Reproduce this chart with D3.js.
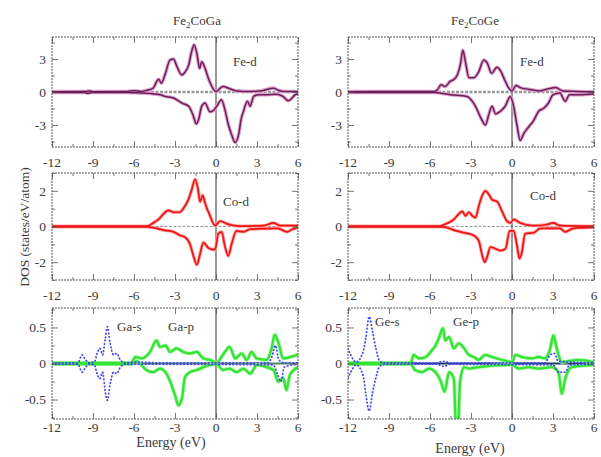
<!DOCTYPE html>
<html>
<head>
<meta charset="utf-8">
<script src="https://d3js.org/d3.v7.min.js"></script>
<style>
  body { margin: 0; background: #fff; }
  text { font-family: "Liberation Serif", "DejaVu Serif", serif; fill: #3a3a3a; }
  .axis path { display: none; }
  .axis line { stroke: #555; stroke-width: 0.8; }
</style>
</head>
<body>
<svg width="601" height="457"></svg>
<script>
// energy axis (eV)
var energyTicks = [-12, -9, -6, -3, 0, 3, 6];
var energyMinor = [-10.5, -7.5, -4.5, -1.5, 1.5, 4.5];

// Fe-d, Fe2CoGa  [energy, DOS]
var feGaUp = [[-12,0.03],[-9.5,0.05],[-9.3,0.1],[-9,0.03],[-6.5,0.05],[-6,0.12],[-5.5,0.05],[-5.3,0.08],[-4.9,0.2],[-4.6,0.35],[-4.2,1.15],[-4.0,0.8],[-3.7,1.7],[-3.37,2.9],[-3.1,3.0],[-2.9,2.45],[-2.5,1.55],[-2.27,1.8],[-2.0,2.45],[-1.78,3.7],[-1.6,4.3],[-1.4,3.5],[-1.2,2.15],[-1.05,2.75],[-0.8,2.15],[-0.56,1.25],[-0.3,0.5],[0,0.05],[0.5,0.5],[1.0,0.3],[1.5,0.1],[2.5,0.05],[3.3,0.1],[4.2,0.35],[4.7,0.1],[5.2,0.05],[6,0.05]];
var feGaDown = [[-12,-0.05],[-9.6,-0.05],[-9.4,-0.12],[-9.1,-0.05],[-6.5,-0.05],[-5.3,-0.1],[-4.1,-0.25],[-3.7,-0.4],[-3.1,-0.55],[-2.5,-1.0],[-2.0,-1.3],[-1.65,-2.2],[-1.45,-2.9],[-1.27,-2.5],[-1.05,-1.3],[-0.8,-1.0],[-0.44,-1.8],[-0.2,-1.7],[0.05,-1.3],[0.4,-0.7],[0.65,-1.6],[0.9,-2.95],[1.15,-3.9],[1.4,-4.6],[1.65,-3.9],[1.85,-2.4],[2.0,-1.8],[2.3,-0.85],[2.5,-1.3],[2.75,-0.4],[3.1,-0.25],[3.7,-0.25],[4.4,-0.2],[4.9,-0.4],[5.3,-0.8],[5.8,-0.25],[6,-0.15]];

// Fe-d, Fe2CoGe
var feGeUp = [[-12,0.03],[-9,0.05],[-5.7,0.05],[-5.45,0.2],[-5.2,0.65],[-4.9,0.5],[-4.5,1.0],[-4.3,1.1],[-4.0,1.55],[-3.76,2.6],[-3.6,3.8],[-3.4,2.7],[-3.15,1.3],[-2.8,1.3],[-2.43,1.85],[-2.07,2.9],[-1.8,2.6],[-1.5,1.7],[-1.1,2.25],[-0.85,1.95],[-0.5,1.0],[-0.26,0.4],[0,0.1],[0.3,0.6],[0.6,0.4],[1.2,0.25],[1.95,0.1],[2.7,0.3],[3.2,0.4],[3.7,0.1],[4.7,0.05],[6,0.02]];
var feGeDown = [[-12,-0.05],[-9,-0.05],[-5.7,-0.05],[-4.5,-0.25],[-3.28,-0.4],[-2.9,-0.85],[-2.67,-1.3],[-2.3,-2.3],[-1.94,-3.0],[-1.7,-2.05],[-1.46,-1.3],[-1.2,-2.0],[-0.85,-1.75],[-0.5,-1.3],[-0.12,-0.4],[0.12,-1.3],[0.36,-3.0],[0.6,-4.4],[0.85,-3.8],[1.2,-3.2],[1.58,-2.6],[1.95,-1.75],[2.3,-1.5],[2.67,-1.0],[3.0,-0.25],[3.5,-0.1],[3.9,-0.85],[4.2,-0.25],[4.9,-0.25],[6,-0.15]];

// Co-d
var coGaUp = [[-12,0.02],[-5,0.02],[-4.6,0.2],[-4.2,0.4],[-3.85,0.7],[-3.5,0.9],[-3.1,0.8],[-2.63,0.8],[-2.4,1.0],[-2.0,1.55],[-1.78,2.05],[-1.53,2.65],[-1.33,2.15],[-1.17,1.4],[-0.97,1.75],[-0.8,1.3],[-0.44,0.6],[-0.07,0.05],[0.3,0.3],[0.8,0.15],[1.75,0.02],[3.5,0.05],[4.2,0.2],[4.7,0.05],[6,0.05]];
var coGaDown = [[-12,-0.02],[-5,-0.02],[-3.85,-0.2],[-3.1,-0.3],[-2.63,-0.5],[-2.26,-0.6],[-1.9,-1.0],[-1.65,-1.65],[-1.4,-2.15],[-1.17,-1.55],[-0.92,-0.9],[-0.56,-1.2],[-0.07,-1.3],[0.17,-0.4],[0.41,-0.3],[0.65,-1.1],[0.9,-1.65],[1.14,-1.0],[1.5,-0.25],[2.0,-0.3],[2.5,-0.15],[4.5,-0.1],[5.2,-0.3],[5.6,-0.15],[6,-0.05]];
var coGeUp = [[-12,0.02],[-5.3,0.02],[-5.0,0.1],[-4.25,0.4],[-3.9,0.7],[-3.64,0.85],[-3.4,0.6],[-3.15,0.8],[-2.9,0.6],[-2.67,0.5],[-2.43,1.15],[-2.2,1.7],[-1.94,2.0],[-1.7,1.8],[-1.45,1.5],[-1.09,1.4],[-0.73,0.85],[-0.36,0.3],[-0.12,0.2],[0.12,0.4],[0.6,0.2],[1.58,0.05],[2.5,0.1],[3.03,0.2],[3.5,0.05],[6,0.02]];
var coGeDown = [[-12,-0.02],[-5,-0.02],[-4.25,-0.2],[-3.5,-0.35],[-2.8,-0.5],[-2.43,-0.8],[-2.2,-1.55],[-2.0,-2.0],[-1.82,-1.7],[-1.58,-1.15],[-1.2,-1.25],[-0.85,-1.35],[-0.48,-1.25],[-0.17,-0.25],[0.12,-0.25],[0.36,-1.05],[0.55,-1.8],[0.72,-1.45],[0.96,-0.4],[1.58,-0.35],[2.07,-0.1],[3.5,-0.1],[3.9,-0.3],[4.5,-0.1],[6,-0.05]];

// Ga-p / Ga-s
var gaPUp = [[-12,0.01],[-6.2,0.01],[-5.9,0.09],[-5.45,0.07],[-4.83,0.16],[-4.35,0.32],[-4.1,0.23],[-3.7,0.25],[-3.35,0.16],[-2.9,0.21],[-2.39,0.16],[-1.9,0.14],[-1.4,0.16],[-0.92,0.07],[-0.44,0.05],[0.05,0.01],[0.5,0.12],[1.0,0.23],[1.4,0.07],[1.88,0.14],[2.25,0.05],[2.6,0.16],[2.98,0.07],[3.7,0.05],[4.07,0.21],[4.3,0.4],[4.55,0.3],[4.92,0.07],[5.4,0.09],[6,0.12]];
var gaPDown = [[-12,-0.01],[-6.2,-0.01],[-5.8,0.03],[-5.1,-0.09],[-4.6,-0.12],[-4.1,-0.07],[-3.7,-0.12],[-3.35,-0.25],[-3.0,-0.44],[-2.75,-0.58],[-2.5,-0.49],[-2.27,-0.19],[-1.9,-0.12],[-1.4,-0.09],[-0.92,-0.05],[0.05,-0.01],[0.5,-0.09],[1.0,-0.07],[1.5,-0.12],[2.0,-0.07],[2.5,-0.14],[3.0,-0.02],[3.7,-0.05],[4.2,-0.09],[4.55,-0.25],[4.92,-0.2],[5.15,-0.37],[5.4,-0.16],[6,-0.05]];
var gaSUp = [[-12,0.01],[-10.1,0.01],[-9.8,0.12],[-9.6,0.07],[-9.3,0.01],[-8.9,0.02],[-8.7,0.14],[-8.5,0.21],[-8.3,0.12],[-8.1,0.35],[-7.95,0.51],[-7.76,0.3],[-7.5,0.12],[-7.27,0.14],[-7.0,0.05],[-6.66,0.01],[-5.5,0.02],[-4.5,0.01],[3.8,0.01],[4.1,0.1],[4.35,0.25],[4.6,0.05],[5,0.01],[6,0.01]];
var gaSDown = [[-12,-0.01],[-10.1,-0.01],[-9.8,-0.12],[-9.6,-0.07],[-9.3,-0.01],[-8.9,-0.02],[-8.7,-0.14],[-8.5,-0.21],[-8.3,-0.12],[-8.1,-0.4],[-7.95,-0.51],[-7.76,-0.3],[-7.5,-0.12],[-7.27,-0.14],[-7.0,-0.05],[-6.66,-0.01],[-4.5,-0.01],[4.2,-0.02],[4.5,-0.15],[4.75,-0.25],[5.0,-0.05],[6,-0.01]];

// Ge-p / Ge-s
var gePUp = [[-12,0.01],[-7.4,0.01],[-7.2,0.12],[-6.8,0.07],[-6.3,0.09],[-5.96,0.16],[-5.6,0.25],[-5.35,0.35],[-5.06,0.49],[-4.87,0.32],[-4.6,0.37],[-4.26,0.21],[-3.9,0.28],[-3.5,0.21],[-3.16,0.12],[-2.8,0.09],[-2.44,0.05],[-1.95,0.12],[-1.46,0.09],[-0.73,0.05],[0,0.02],[0.25,0.12],[0.73,0.09],[1.46,0.07],[1.94,0.09],[2.42,0.07],[2.8,0.21],[3.03,0.39],[3.27,0.21],[3.64,0.02],[4.86,0.05],[6,0.02]];
var gePDown = [[-12,-0.01],[-7.4,-0.01],[-7.1,-0.09],[-6.57,-0.12],[-6.08,-0.07],[-5.6,-0.12],[-5.2,-0.25],[-4.94,-0.39],[-4.6,-0.12],[-4.26,-0.21],[-4.1,-0.85],[-3.95,-0.9],[-3.8,-0.25],[-3.5,-0.05],[-3.16,-0.07],[-2.44,-0.05],[0,-0.02],[0.5,-0.07],[1.2,-0.05],[1.94,-0.07],[2.9,-0.05],[3.4,-0.12],[3.64,-0.42],[3.9,-0.21],[4.37,-0.05],[6,-0.02]];
var geSUp = [[-12,0.21],[-11.8,0.12],[-11.4,0.02],[-10.9,0.16],[-10.7,0.35],[-10.45,0.65],[-10.2,0.44],[-9.96,0.21],[-9.72,0.05],[-9.4,0.01],[-5.5,0.01],[-5.0,0.03],[-4.5,0.01],[2.4,0.01],[2.8,0.12],[3.1,0.14],[3.4,0.03],[6,0.01]];
var geSDown = [[-12,-0.2],[-11.8,-0.12],[-11.4,-0.02],[-10.9,-0.16],[-10.7,-0.42],[-10.45,-0.66],[-10.2,-0.4],[-9.96,-0.2],[-9.72,-0.05],[-9.4,-0.01],[-5.5,-0.01],[-5.0,-0.04],[-4.5,-0.01],[3.0,-0.02],[3.4,-0.12],[3.9,-0.12],[4.2,-0.02],[6,-0.01]];

// y ticks per row
var rowTicks = [[-3, 0, 3], [-2, 0, 2], [-0.5, 0, 0.5]];
var rowMinor = [[-4.5, -1.5, 1.5, 4.5], [-3, -1, 1, 3], [-0.75, -0.25, 0.25, 0.75]];
var rowDomain = [[-5, 5], [-3, 3], [-0.77, 0.77]];

var svg = d3.select("svg");

var cols = [{ x0: 52, x1: 298 }, { x0: 348, x1: 594 }];
var rows = [
  { y0: 37, y1: 147, labelY: 167 },
  { y0: 173, y1: 280, labelY: 300 },
  { y0: 308, y1: 419, labelY: 432 }
];

// line styles
var styles = {
  fe: [{ c: "#e0a0cc", w: 3.6 }, { c: "#6a2058", w: 1.5 }],
  co: [{ c: "#ffa0a0", w: 3.4 }, { c: "#ee1414", w: 1.7 }],
  gp: [{ c: "#a8f6a8", w: 3.8 }, { c: "#33e433", w: 2.3 }],
  bs: [{ c: "#4848f2", w: 1.8, dash: "0.5,3" }]
};

var panels = [
  { col: 0, row: 0, lines: [["fe", feGaUp], ["fe", feGaDown]], labels: [["Fe-d", 233, 66]] },
  { col: 1, row: 0, lines: [["fe", feGeUp], ["fe", feGeDown]], labels: [["Fe-d", 520, 66]] },
  { col: 0, row: 1, lines: [["co", coGaUp], ["co", coGaDown]], labels: [["Co-d", 223, 206]] },
  { col: 1, row: 1, lines: [["co", coGeUp], ["co", coGeDown]], labels: [["Co-d", 530, 200]] },
  { col: 0, row: 2, lines: [["gp", gaPUp], ["gp", gaPDown], ["bs", gaSUp], ["bs", gaSDown]],
    labels: [["Ga-s", 117, 331], ["Ga-p", 168, 331]], zero: "#4a8a5a" },
  { col: 1, row: 2, lines: [["gp", gePUp], ["gp", gePDown], ["bs", geSUp], ["bs", geSDown]],
    labels: [["Ge-s", 375, 326], ["Ge-p", 453, 326]], zero: "#1d3d5d" }
];

panels.forEach(function (p, i) {
  var c = cols[p.col], r = rows[p.row];
  var x = d3.scaleLinear().domain([-12, 6]).range([c.x0, c.x1]);
  var y = d3.scaleLinear().domain(rowDomain[p.row]).range([r.y1, r.y0]);

  svg.append("clipPath").attr("id", "clip" + i)
    .append("rect").attr("x", c.x0).attr("y", r.y0)
    .attr("width", c.x1 - c.x0).attr("height", r.y1 - r.y0);

  var g = svg.append("g");

  // zero line (horizontal) and Fermi level (vertical)
  g.append("line")
    .attr("x1", c.x0).attr("x2", c.x1)
    .attr("y1", y(0)).attr("y2", y(0))
    .style("stroke", p.zero || "#999")
    .style("stroke-width", p.zero ? 2.2 : (p.row === 0 ? 2.4 : 1.2))
    .style("stroke-dasharray", p.zero ? null : "3,1.5");
  g.append("line")
    .attr("x1", x(0)).attr("x2", x(0))
    .attr("y1", r.y0).attr("y2", r.y1)
    .style("stroke", "#555").style("stroke-width", 1.2);

  var line = d3.line()
    .x(function (d) { return x(d[0]); })
    .y(function (d) { return y(d[1]); })
    .curve(d3.curveMonotoneX);

  var lg = g.append("g").attr("clip-path", "url(#clip" + i + ")");
  // halos first, then cores
  [0, 1].forEach(function (layer) {
    p.lines.forEach(function (l) {
      var st = styles[l[0]];
      var s = st.length === 1 ? (layer === 1 ? st[0] : null) : st[layer];
      if (!s) return;
      lg.append("path")
        .datum(l[1])
        .attr("d", line)
        .style("fill", "none")
        .style("stroke", s.c)
        .style("stroke-width", s.w)
        .style("stroke-linecap", "round")
        .style("stroke-linejoin", "round")
        .style("stroke-dasharray", s.dash || null);
    });
  });

  // axes with inward ticks on all four sides
  g.append("g").attr("class", "axis").attr("transform", "translate(0," + r.y1 + ")")
    .call(d3.axisBottom(x).tickValues(energyTicks).tickSize(-6).tickFormat(""));
  g.append("g").attr("class", "axis").attr("transform", "translate(0," + r.y1 + ")")
    .call(d3.axisBottom(x).tickValues(energyMinor).tickSize(-3).tickFormat(""));
  g.append("g").attr("class", "axis").attr("transform", "translate(0," + r.y0 + ")")
    .call(d3.axisTop(x).tickValues(energyTicks).tickSize(-6).tickFormat(""));
  g.append("g").attr("class", "axis").attr("transform", "translate(0," + r.y0 + ")")
    .call(d3.axisTop(x).tickValues(energyMinor).tickSize(-3).tickFormat(""));
  g.append("g").attr("class", "axis").attr("transform", "translate(" + c.x0 + ",0)")
    .call(d3.axisLeft(y).tickValues(rowTicks[p.row]).tickSize(-6).tickFormat(""));
  g.append("g").attr("class", "axis").attr("transform", "translate(" + c.x0 + ",0)")
    .call(d3.axisLeft(y).tickValues(rowMinor[p.row]).tickSize(-3).tickFormat(""));
  g.append("g").attr("class", "axis").attr("transform", "translate(" + c.x1 + ",0)")
    .call(d3.axisRight(y).tickValues(rowTicks[p.row]).tickSize(-6).tickFormat(""));
  g.append("g").attr("class", "axis").attr("transform", "translate(" + c.x1 + ",0)")
    .call(d3.axisRight(y).tickValues(rowMinor[p.row]).tickSize(-3).tickFormat(""));

  // frame
  g.append("rect")
    .attr("x", c.x0).attr("y", r.y0)
    .attr("width", c.x1 - c.x0).attr("height", r.y1 - r.y0)
    .style("fill", "none").style("stroke", "#555").style("stroke-width", 1)
    .style("stroke-dasharray", "2,1");

  // tick labels
  g.selectAll(".xl").data(energyTicks).enter().append("text")
    .attr("x", function (d) { return x(d); })
    .attr("y", r.labelY)
    .attr("text-anchor", "middle")
    .style("font-size", "13.5px")
    .text(function (d) { return String(d); });
  g.selectAll(".yl").data(rowTicks[p.row]).enter().append("text")
    .attr("x", c.x0 - 6)
    .attr("y", function (d) { return y(d); })
    .attr("dy", "0.35em")
    .attr("text-anchor", "end")
    .style("font-size", "13.5px")
    .text(function (d) { return String(d); });

  p.labels.forEach(function (t) {
    g.append("text").attr("x", t[1]).attr("y", t[2])
      .style("font-size", "13px").text(t[0]);
  });
});

// compound titles
[["Ga", 197], ["Ge", 475]].forEach(function (t) {
  var tt = svg.append("text").attr("x", t[1]).attr("y", 25)
    .attr("text-anchor", "middle").style("font-size", "13px");
  tt.append("tspan").text("Fe");
  tt.append("tspan").attr("dy", 3).style("font-size", "9px").text("2");
  tt.append("tspan").attr("dy", -3).text("Co" + t[0]);
});

// axis titles
svg.append("text").attr("x", 171).attr("y", 447)
  .attr("text-anchor", "middle").style("font-size", "14px").text("Energy (eV)");
svg.append("text").attr("x", 470).attr("y", 453)
  .attr("text-anchor", "middle").style("font-size", "14px").text("Energy (eV)");
svg.append("text")
  .attr("transform", "translate(29,227) rotate(-90)")
  .attr("text-anchor", "middle").style("font-size", "13.5px")
  .text("DOS (states/eV/atom)");
</script>
</body>
</html>
